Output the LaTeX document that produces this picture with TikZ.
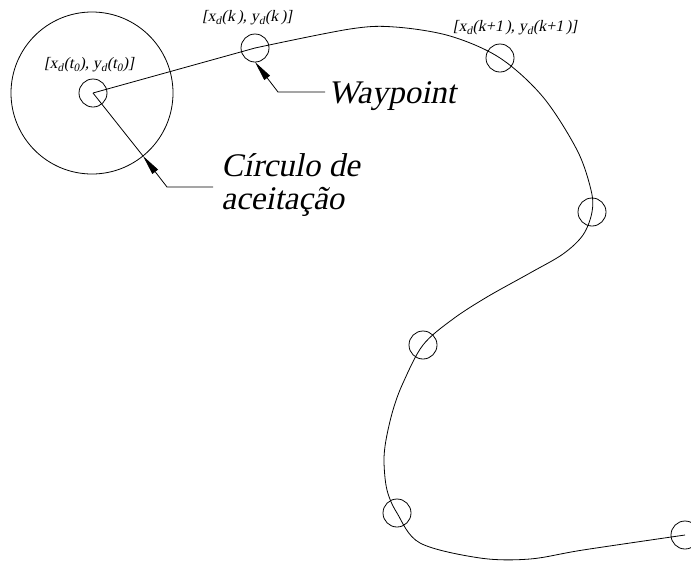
\documentclass[tikz,border=0pt]{standalone}
\usepackage{fontspec}
\newfontfamily\tnr{Liberation Serif}[FakeSlant=0.2]
\usetikzlibrary{arrows.meta}
\begin{document}
\begin{tikzpicture}[x=1pt,y=-1pt,line width=0.8pt,
  wp/.style={circle,draw,minimum size=28pt,inner sep=0pt,outer sep=0pt},
  accbox/.style={circle,draw,minimum size=162pt,inner sep=0pt,outer sep=0pt},
  lbl/.style={font=\tnr\fontsize{16}{18}\selectfont,inner sep=0pt},
  bigtxt/.style={font=\tnr\fontsize{33}{36}\selectfont,inner sep=0pt,anchor=base west},
  tip/.style={-{Triangle[length=20pt,width=7pt]}}]
\useasboundingbox (0,0) rectangle (691,563);
% acceptance circle and waypoints
\node[accbox] (acc) at (92,93) {};
\node[wp] (s0) at (93,93) {};
\node[wp] (w1) at (255,48) {};
\node[wp] (w2) at (500,58) {};
\node[wp] (w3) at (592,212) {};
\node[wp] (w4) at (423,345) {};
\node[wp] (w5) at (397,513) {};
\node[wp] (w6) at (685,535) {};
% path
\draw (s0.center) -- (w1.center);
\draw plot[smooth,tension=0.55] coordinates {(w1.center) (350,29) (395,27) (450,36) (w2.center) (543,97) (577,150) (591,190) (w3.center) (583,235) (563,254) (530,273) (487,297) (453,319) (w4.center) (403,383) (393,410) (386,440) (384,462) (387,490) (w5.center) (420,543) (480,558) (530,559) (583,550) (w6.center)};
% radius
\draw (s0.center) -- (acc.-51);
% labels
\node[lbl] (l0) at (89,65) {[x\textsubscript{d}(t\textsubscript{0}), y\textsubscript{d}(t\textsubscript{0})]};
\node[lbl] (l1) at (247,18) {[x\textsubscript{d}(k\,), y\textsubscript{d}(k\,)]};
\node[lbl] (l2) at (515,28) {[x\textsubscript{d}(k+1\,), y\textsubscript{d}(k+1\,)]};
% callouts
\node[bigtxt] (wtxt) at (328,103) {Waypoint};
\node[bigtxt] (c1) at (221,176) {Círculo de};
\node[bigtxt] (c2) at (221,209) {aceitação};
\coordinate (wk) at (278,92);
\coordinate (we) at (325,92);
\draw[tip] (we) -- (wk) -- (w1.south);
\coordinate (ck) at (167,187);
\coordinate (ce) at (213,187);
\draw[tip] (ce) -- (ck) -- (acc.-51);
\end{tikzpicture}
\end{document}
